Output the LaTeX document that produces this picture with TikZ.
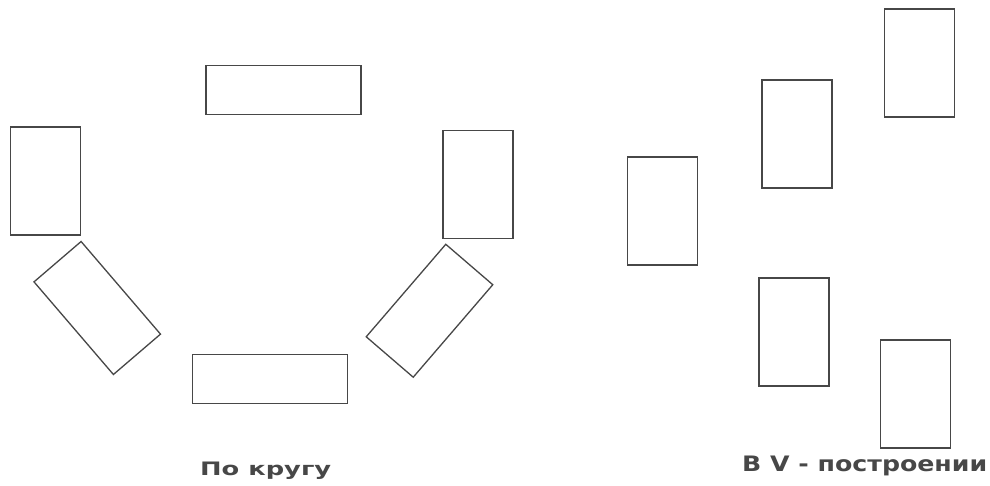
\documentclass[tikz,border=0pt]{standalone}
\usepackage{fontspec}
\setmainfont{DejaVu Sans}
\begin{document}
\begin{tikzpicture}[x=1pt,y=-1pt,
  card/.style={draw=black!72,line width=1.3pt,rectangle,inner sep=0pt,outer sep=0pt},
  upright/.style={card,minimum width=70pt,minimum height=108pt},
  flat/.style={card,minimum width=155pt,minimum height=49pt},
  tilted/.style={card,minimum width=62pt,minimum height=122pt},
  caption/.style={text=black!72,font=\bfseries,inner sep=0pt,anchor=base west}]
\useasboundingbox[fill=white] (0,0) rectangle (990,486);
% circle arrangement
\node[flat] (ctop) at (283.5,90) {};
\node[upright] (cleft) at (45.5,181) {};
\node[upright] (cright) at (478,184.5) {};
\node[tilted,rotate=40.6] (cleftlow) at (97.25,308) {};
\node[tilted,rotate=-40.7] (crightlow) at (429.5,310.75) {};
\node[flat] (cbottom) at (270,379) {};
% V arrangement
\node[upright] (va) at (662.5,211) {};
\node[upright] (vb) at (797,134) {};
\node[upright] (vc) at (919.5,63) {};
\node[upright] (vd) at (794,332) {};
\node[upright] (ve) at (915.5,394) {};
% captions
\node[caption] (lcircle) at (200,475) {\resizebox{131pt}{13.5pt}{По кругу}};
\node[caption] (lv) at (742,471.5) {\resizebox{245pt}{15.5pt}{В V - построении}};
\end{tikzpicture}
\end{document}
